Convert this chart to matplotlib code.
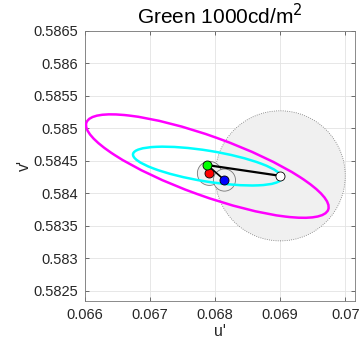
import numpy as np
import matplotlib
matplotlib.use('Agg')
import matplotlib.pyplot as plt
from matplotlib.patches import Ellipse, Circle

plt.rcParams['font.family'] = ['Liberation Sans', 'DejaVu Sans']

# chromaticity points (u', v')
white = (0.06900, 0.58427)
green = (0.067882, 0.584435)
red = (0.067912, 0.584308)
blue = (0.068143, 0.584205)

# uncertainty circles: centre, radius
circ_centres = [white, red, blue]
circ_radii = [0.00100, 0.000185, 0.000170]
circ_styles = [':', '-', '-']

# ellipses: centre, semi-major, semi-minor, angle (deg)
ell_centre = (0.06788, 0.58442)
ell_colors = ['magenta', 'cyan']
ell_a = [0.001975, 0.001157]
ell_b = [0.000457, 0.000237]
ell_ang = [-19.8, -9.2]

xticks = [0.066, 0.067, 0.068, 0.069, 0.070]
yticks = [0.5825, 0.583, 0.5835, 0.584, 0.5845, 0.585, 0.5855, 0.586, 0.5865]

fig = plt.figure(figsize=(3.59, 3.48), dpi=100)
ax = fig.add_axes([0.2368, 0.1359, 0.7521, 0.7756])

for c, r, ls in zip(circ_centres, circ_radii, circ_styles):
    ax.add_patch(Circle(c, r, facecolor='#f0f0f0', edgecolor='#777777',
                        linestyle=ls, linewidth=0.6, zorder=2))

for col, a, b, ang in zip(ell_colors, ell_a, ell_b, ell_ang):
    ax.add_patch(Ellipse(ell_centre, 2*a, 2*b, angle=ang, fill=False,
                         edgecolor=col, linewidth=1.8, zorder=3))

ax.plot([green[0], white[0]], [green[1], white[1]], color='k', lw=1.6, zorder=4)
ax.plot([green[0], blue[0]], [green[1], blue[1]], color='k', lw=1.2, zorder=4)

for p, col in [(white, 'white'), (blue, 'blue'), (red, 'red'), (green, '#00ff00')]:
    ax.plot(p[0], p[1], 'o', ms=6.5, mfc=col, mec='k', mew=0.6, zorder=5)

ax.set_xlim(0.066, 0.07015)
ax.set_ylim(0.58235, 0.5865)
ax.set_xticks(xticks)
ax.set_xticklabels(['%g' % t for t in xticks])
ax.set_yticks(yticks)
ax.set_yticklabels(['%g' % t for t in yticks])

ax.grid(True, color='#e3e3e3', lw=0.6)
ax.set_axisbelow(True)
ax.tick_params(direction='in', length=3, width=0.6, colors='#555555',
               labelcolor='#262626', labelsize=10.5, pad=5, top=True, right=True)
for s in ax.spines.values():
    s.set_color('#777777')
    s.set_linewidth(0.6)

ax.set_xlabel("u'", fontsize=11.5, color='#262626', labelpad=2)
ax.set_ylabel("v'", fontsize=11.5, color='#262626', labelpad=1)
ax.set_title('Green 1000cd/m$^2$', fontsize=15, color='k', pad=5)

fig.savefig('out.png', dpi=100)
